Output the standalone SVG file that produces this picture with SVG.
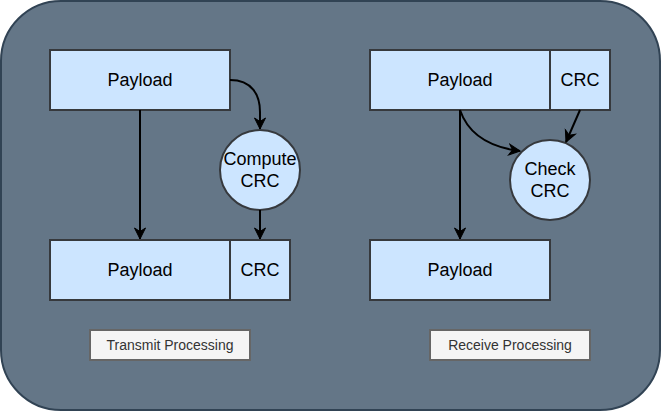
<svg xmlns="http://www.w3.org/2000/svg" width="661" height="411" viewBox="0 0 661 411">
<style>
.box{fill:#cce5ff;stroke:#36393d;stroke-width:2}
.t{font-family:"Liberation Sans",Arial,sans-serif;font-size:18px;fill:#000;text-anchor:middle;dominant-baseline:central}
.lbl{fill:#f5f5f5;stroke:#666666;stroke-width:2}
.lt{font-family:"Liberation Sans",Arial,sans-serif;font-size:14px;fill:#333333;text-anchor:middle;dominant-baseline:central}
.edge{fill:none;stroke:#000;stroke-width:2;marker-end:url(#arr)}
</style>
<defs>
<marker id="arr" markerUnits="userSpaceOnUse" markerWidth="14" markerHeight="14" viewBox="-12 -6 14 12" refX="0" refY="0" orient="auto">
<path d="M0,0 L-11,-5.5 L-7.5,0 L-11,5.5 Z" fill="#000" stroke="#000" stroke-width="1"/>
</marker>
</defs>
<g id="background">
<rect x="1" y="1" width="659" height="409" rx="60" ry="60" fill="#647687" stroke="#314354" stroke-width="2"/>
</g>
<g id="tx-payload">
<rect class="box" x="50" y="50" width="180" height="60"/>
<text class="t" x="140" y="80">Payload</text>
</g>
<g id="compute-crc">
<circle class="box" cx="260" cy="170" r="40"/>
<text class="t" x="260" y="159">Compute</text>
<text class="t" x="260" y="181">CRC</text>
</g>
<g id="tx-out-payload">
<rect class="box" x="50" y="240" width="180" height="60"/>
<text class="t" x="140" y="270">Payload</text>
</g>
<g id="tx-out-crc">
<rect class="box" x="230" y="240" width="60" height="60"/>
<text class="t" x="260" y="270">CRC</text>
</g>
<g id="rx-payload">
<rect class="box" x="370" y="50" width="180" height="60"/>
<text class="t" x="460" y="80">Payload</text>
</g>
<g id="rx-crc">
<rect class="box" x="550" y="50" width="60" height="60"/>
<text class="t" x="580" y="80">CRC</text>
</g>
<g id="check-crc">
<circle class="box" cx="550" cy="180" r="40"/>
<text class="t" x="550" y="169">Check</text>
<text class="t" x="550" y="191">CRC</text>
</g>
<g id="rx-out-payload">
<rect class="box" x="370" y="240" width="180" height="60"/>
<text class="t" x="460" y="270">Payload</text>
</g>
<g id="transmit-label">
<rect class="lbl" x="90" y="330" width="160" height="30"/>
<text class="lt" x="170" y="345">Transmit Processing</text>
</g>
<g id="receive-label">
<rect class="lbl" x="430" y="330" width="160" height="30"/>
<text class="lt" x="510" y="345">Receive Processing</text>
</g>
<g id="connectors">
<path class="edge" d="M140,110 L140,239"/>
<path class="edge" d="M230,80 C252,80 260,95 260,112 L260,129"/>
<path class="edge" d="M260,210 L260,239"/>
<path class="edge" d="M460,110 L460,239"/>
<path class="edge" d="M460,110 Q472,145 520,151"/>
<path class="edge" d="M580,110 L566,142"/>
</g>
</svg>
